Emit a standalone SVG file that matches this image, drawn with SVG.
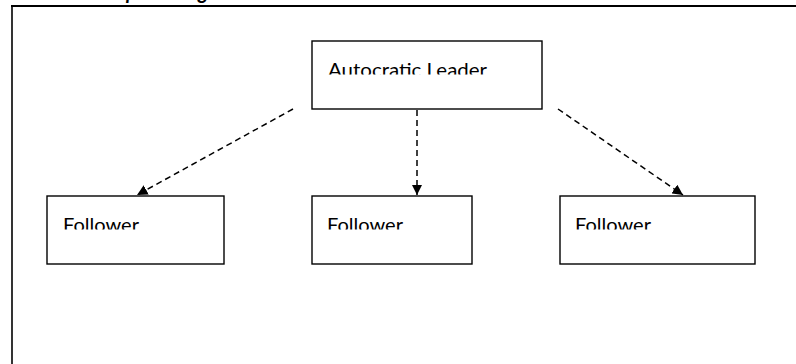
<svg xmlns="http://www.w3.org/2000/svg" width="796" height="364" viewBox="0 0 796 364">
  <style>
    .box { fill: #ffffff; stroke: #000000; stroke-width: 1.4; }
    .lbl { font-family: Lato, "Liberation Sans", sans-serif; font-size: 20px; fill: #000000; }
    .title { font-family: Lato, "Liberation Sans", sans-serif; font-size: 20px; font-weight: bold; font-style: italic; fill: #000000; }
    .frame { fill: none; stroke: #000000; }
    .conn { fill: none; stroke: #000000; stroke-width: 1.5; stroke-dasharray: 6 4; }
  </style>
  <defs>
    <marker id="arrow" viewBox="0 0 10 10" refX="10" refY="5" markerWidth="7" markerHeight="7" markerUnits="strokeWidth" orient="auto">
      <path d="M0,0 L10,5 L0,10 Z" fill="#000000"/>
    </marker>
    <clipPath id="clipLeader"><rect x="313" y="42" width="228" height="32.5"/></clipPath>
    <clipPath id="clipF1"><rect x="48" y="197" width="175" height="32.5"/></clipPath>
    <clipPath id="clipF2"><rect x="313" y="197" width="158" height="32.5"/></clipPath>
    <clipPath id="clipF3"><rect x="561" y="197" width="193" height="32.5"/></clipPath>
  </defs>
  <rect width="796" height="364" fill="#ffffff"/>

  <g id="title">
    <text class="title" y="-1"><tspan x="126">p</tspan><tspan x="198">g</tspan></text>
  </g>

  <g id="frame">
    <line class="frame" x1="11" y1="6" x2="796" y2="6" stroke-width="2"/>
    <line class="frame" x1="12" y1="5" x2="12" y2="364" stroke-width="1.6"/>
  </g>

  <g id="connectors">
    <line class="conn" x1="293" y1="109" x2="137" y2="195" marker-end="url(#arrow)"/>
    <line class="conn" x1="417" y1="110" x2="417" y2="195" marker-end="url(#arrow)"/>
    <line class="conn" x1="558" y1="109" x2="683" y2="195" marker-end="url(#arrow)"/>
  </g>

  <g id="leader">
    <rect class="box" x="312" y="41" width="230" height="68"/>
    <text class="lbl" x="328" y="77.3" textLength="159" lengthAdjust="spacingAndGlyphs" clip-path="url(#clipLeader)">Autocratic Leader</text>
  </g>

  <g id="follower1">
    <rect class="box" x="47" y="196" width="177" height="68"/>
    <text class="lbl" x="63" y="232.3" textLength="76" lengthAdjust="spacingAndGlyphs" clip-path="url(#clipF1)">Follower</text>
  </g>

  <g id="follower2">
    <rect class="box" x="312" y="196" width="160" height="68"/>
    <text class="lbl" x="327" y="232.3" textLength="76" lengthAdjust="spacingAndGlyphs" clip-path="url(#clipF2)">Follower</text>
  </g>

  <g id="follower3">
    <rect class="box" x="560" y="196" width="195" height="68"/>
    <text class="lbl" x="575" y="232.3" textLength="76" lengthAdjust="spacingAndGlyphs" clip-path="url(#clipF3)">Follower</text>
  </g>
</svg>
